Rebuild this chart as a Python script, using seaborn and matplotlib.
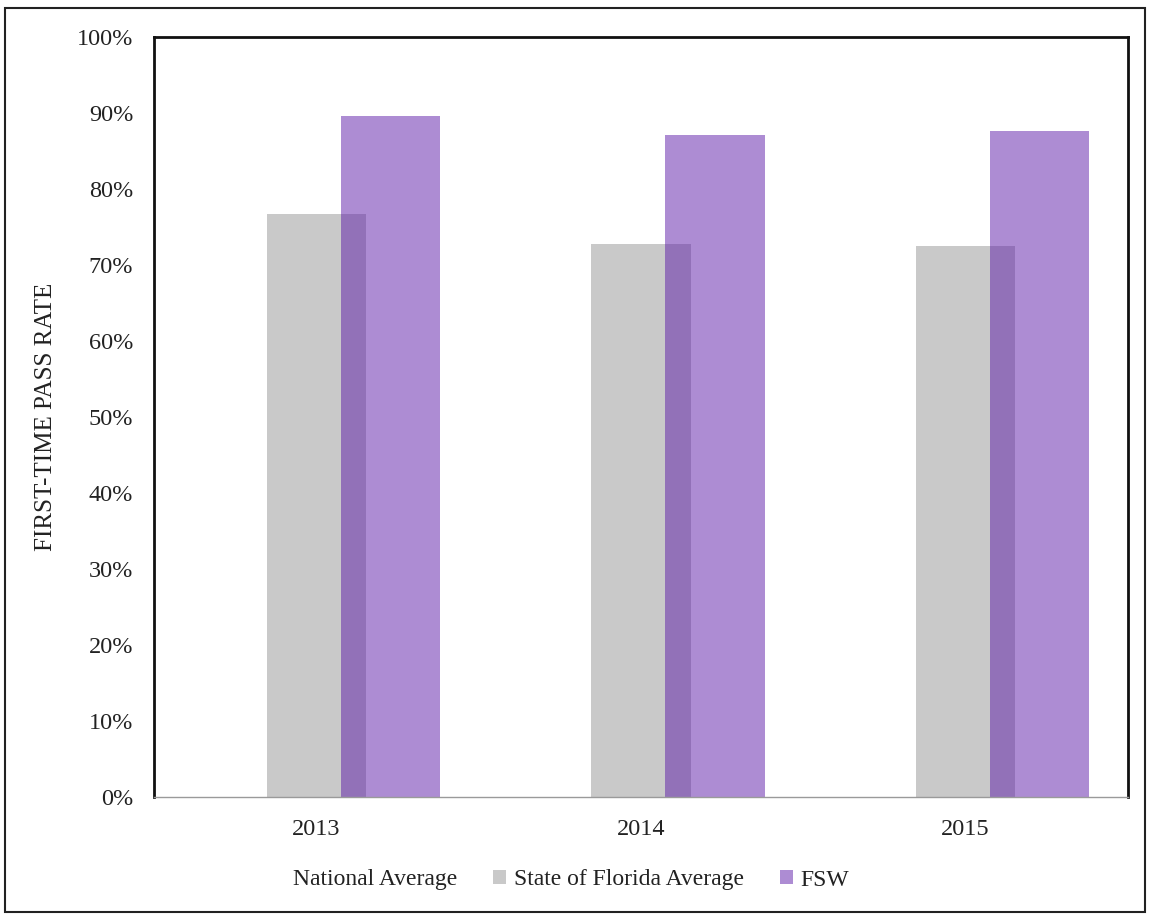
import numpy as np
import pandas as pd
import matplotlib
matplotlib.use("Agg")
import matplotlib.pyplot as plt
import seaborn as sns
from matplotlib.patches import Rectangle

years = ["2013", "2014", "2015"]
national_avg = [0.830, 0.818, 0.845]
florida_avg = [0.767, 0.728, 0.725]
fsw_rate = [0.896, 0.871, 0.876]

series_names = ["National Average", "State of Florida Average", "FSW"]
series_colors = ["#ffffff", "#c9c9c9", "#5c1aa8"]

df = pd.DataFrame({
    "Year": years * 3,
    "Rate": national_avg + florida_avg + fsw_rate,
    "Series": np.repeat(series_names, len(years)),
})

sns.set_style("white")
plt.rcParams["font.family"] = ["Liberation Serif", "DejaVu Serif"]

fig = plt.figure(figsize=(11.49, 9.18), dpi=100)
ax = fig.add_axes([154 / 1149, 1 - 797 / 918, (1128 - 154) / 1149, (797 - 37) / 918])

sns.barplot(data=df, x="Year", y="Rate", hue="Series", hue_order=series_names,
            palette=series_colors, width=0.684, gap=-0.34, saturation=1,
            errorbar=None, linewidth=0, ax=ax, legend=False)

# FSW bars are see-through over the state bars
for patch in ax.containers[2]:
    patch.set_alpha(0.5)

ax.set_ylim(0, 1)
ax.set_xlim(-0.5, 2.5)
ax.set_yticks(np.arange(0, 1.01, 0.1))
ax.set_yticklabels([f"{int(round(v * 100))}%" for v in np.arange(0, 1.01, 0.1)])
ax.tick_params(axis="both", length=0, labelsize=17.5, colors="#222222")
ax.tick_params(axis="y", pad=15)
ax.tick_params(axis="x", pad=16)
ax.set_xlabel("")
ax.set_ylabel("FIRST-TIME PASS RATE", fontsize=18, color="#222222", labelpad=14)

for side in ["left", "top", "right"]:
    ax.spines[side].set_color("#111111")
    ax.spines[side].set_linewidth(2)
ax.spines["bottom"].set_color("#9a9a9a")
ax.spines["bottom"].set_linewidth(1)

handles = [Rectangle((0, 0), 1, 1, facecolor=series_colors[0], edgecolor="none"),
           Rectangle((0, 0), 1, 1, facecolor=series_colors[1], edgecolor="none"),
           Rectangle((0, 0), 1, 1, facecolor=series_colors[2], alpha=0.5, edgecolor="none")]
fig.legend(handles, series_names, loc="center", bbox_to_anchor=(0.488, 1 - 880 / 918),
           ncol=3, frameon=False, fontsize=17, handlelength=0.55, handleheight=0.55,
           handletextpad=0.35, columnspacing=1.5, labelcolor="#222222")

fig.patches.append(Rectangle((5 / 1149, 1 - 912 / 918), 1140 / 1149, 904 / 918,
                             transform=fig.transFigure, fill=False,
                             edgecolor="#222222", linewidth=1.5))

fig.savefig("out.png", dpi=100)
